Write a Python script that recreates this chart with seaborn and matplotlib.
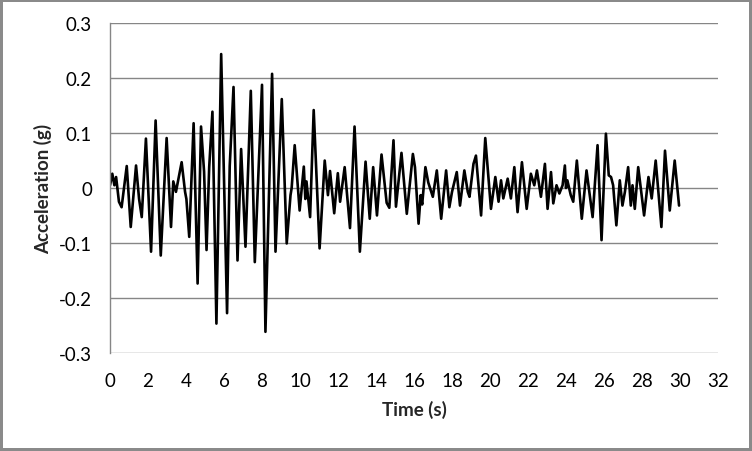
import numpy as np
import pandas as pd
import matplotlib
matplotlib.use('Agg')
import matplotlib.pyplot as plt
import seaborn as sns

# time (s) and acceleration (g), peak by peak
time_s = [0.0, 0.12, 0.23, 0.32, 0.47, 0.61, 0.88, 1.09, 1.37, 1.53, 1.67, 1.89, 2.16, 2.4, 2.67,
          2.98, 3.21, 3.33, 3.47, 3.77, 3.95, 4.02, 4.17, 4.4, 4.61, 4.79, 4.95, 5.08, 5.22, 5.39,
          5.6, 5.85, 6.16, 6.3, 6.5, 6.71, 6.9, 7.13, 7.41, 7.62, 8.0, 8.18, 8.53, 8.71, 9.04,
          9.3, 9.5, 9.56, 9.72, 9.98, 10.2, 10.28, 10.34, 10.53, 10.72, 11.03, 11.3, 11.47, 11.58,
          11.8, 11.99, 12.11, 12.35, 12.63, 12.87, 13.15, 13.45, 13.67, 13.85, 14.05, 14.29, 14.56,
          14.7, 14.92, 15.05, 15.34, 15.62, 15.94, 16.05, 16.24, 16.35, 16.43, 16.6, 16.75, 16.99,
          17.2, 17.43, 17.69, 17.86, 18.0, 18.25, 18.42, 18.65, 18.83, 18.92, 19.13, 19.26, 19.53,
          19.75, 20.05, 20.28, 20.45, 20.58, 20.7, 20.93, 21.1, 21.28, 21.45, 21.68, 21.93, 22.15,
          22.33, 22.47, 22.68, 22.89, 23.03, 23.21, 23.33, 23.5, 23.65, 23.82, 23.94, 24.0, 24.07,
          24.25, 24.38, 24.57, 24.83, 25.08, 25.4, 25.66, 25.87, 26.1, 26.25, 26.37, 26.48, 26.65,
          26.83, 26.97, 27.1, 27.27, 27.41, 27.5, 27.62, 27.8, 28.11, 28.34, 28.51, 28.72, 29.02,
          29.21, 29.46, 29.72, 29.95]
accel_g = [0.005, 0.026, 0.005, 0.02, -0.025, -0.035, 0.04, -0.071, 0.041, -0.02, -0.053, 0.09, -0.116, 0.123, -0.123,
           0.091, -0.071, 0.012, -0.007, 0.047, -0.007, -0.02, -0.089, 0.118, -0.174, 0.112, 0.03, -0.113, 0.038, 0.139,
           -0.247, 0.244, -0.228, 0.04, 0.184, -0.132, 0.071, -0.107, 0.177, -0.135, 0.188, -0.262, 0.208, -0.116, 0.162,
           -0.101, -0.013, 0.0, 0.078, -0.041, 0.039, -0.02, 0.012, -0.053, 0.142, -0.11, 0.05, -0.013, 0.031,
           -0.046, 0.027, -0.025, 0.038, -0.073, 0.112, -0.116, 0.048, -0.056, 0.038, -0.05, 0.061, -0.027,
           -0.036, 0.087, -0.034, 0.064, -0.047, 0.062, 0.038, -0.065, -0.013, -0.03, 0.038, 0.01, -0.016,
           0.032, -0.056, 0.032, -0.035, -0.007, 0.029, -0.032, 0.032, -0.007, -0.016, 0.044, 0.059, -0.05,
           0.091, -0.038, 0.02, -0.025, 0.014, -0.019, 0.017, -0.019, 0.038, -0.044, 0.047, -0.038, 0.026,
           0.005, 0.032, -0.016, 0.044, -0.038, 0.029, -0.028, 0.005, -0.01, 0.005, 0.041, 0.0, 0.014,
           -0.013, -0.025, 0.05, -0.056, 0.032, -0.053, 0.078, -0.095, 0.099, 0.023, 0.02, 0.005, -0.068,
           0.014, -0.032, -0.007, 0.038, -0.032, 0.005, -0.038, 0.038, -0.05, 0.02, -0.019, 0.05, -0.071,
           0.068, -0.041, 0.05, -0.032]

x_ticks = np.arange(0, 33, 2)
y_ticks = [-0.3, -0.2, -0.1, 0, 0.1, 0.2, 0.3]
y_ticklabels = ['-0.3', '-0.2', '-0.1', '0', '0.1', '0.2', '0.3']

df = pd.DataFrame({'time': time_s, 'acc': accel_g})

sns.set_style('white')
plt.rcParams['font.family'] = ['Lato', 'DejaVu Sans']

fig = plt.figure(figsize=(7.52, 4.52), dpi=100)
fig.patch.set_edgecolor('#8a8a8a')
fig.patch.set_linewidth(3)
ax = fig.add_axes([0.1463, 0.2175, 0.8085, 0.7287])

sns.lineplot(data=df, x='time', y='acc', ax=ax, color='black', linewidth=1.9,
             estimator=None, sort=False, solid_joinstyle='round')

ax.set_xlim(0, 32)
ax.set_ylim(-0.3, 0.3)
ax.set_xticks(x_ticks)
ax.set_yticks(y_ticks)
ax.set_yticklabels(y_ticklabels)
ax.yaxis.grid(True, color='#868686', linewidth=1)
ax.xaxis.grid(False)
for side in ['top', 'right', 'bottom']:
    ax.spines[side].set_visible(False)
ax.spines['left'].set_color('#868686')
ax.spines['left'].set_linewidth(1)
ax.tick_params(axis='x', length=0, pad=14, labelsize=13.5, labelcolor='black')
ax.tick_params(axis='y', length=0, pad=13, labelsize=13.5, labelcolor='black')

ax.set_xlabel('Time (s)', fontsize=13.5, fontweight='bold', labelpad=8)
ax.set_ylabel('Acceleration (g)', fontsize=13.5, fontweight='bold', labelpad=5)

plt.savefig('out.png', dpi=100)
plt.close()
